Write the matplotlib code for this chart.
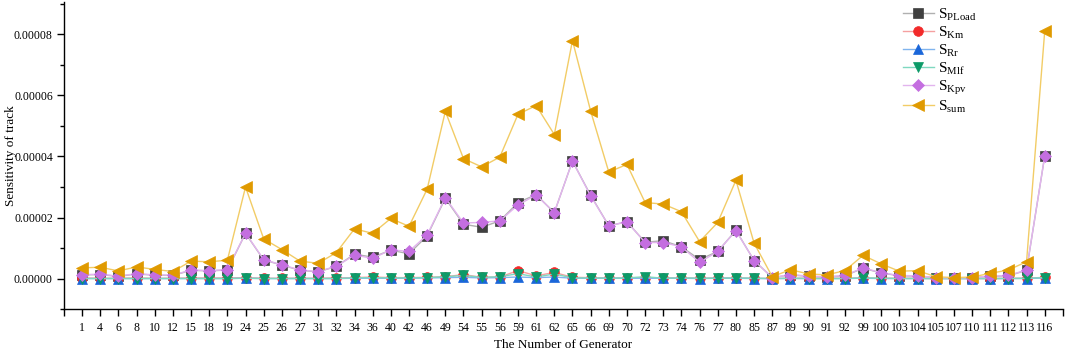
import numpy as np
import matplotlib
matplotlib.use("Agg")
import matplotlib.pyplot as plt
from matplotlib.ticker import MultipleLocator, FormatStrFormatter

plt.rcParams['font.family'] = ['Liberation Serif', 'DejaVu Serif']
plt.rcParams['mathtext.fontset'] = 'custom'
plt.rcParams['mathtext.rm'] = 'Liberation Serif'

generators = [1, 4, 6, 8, 10, 12, 15, 18, 19, 24, 25, 26, 27, 31, 32, 34, 36, 40, 42, 46,
              49, 54, 55, 56, 59, 61, 62, 65, 66, 69, 70, 72, 73, 74, 76, 77, 80, 85, 87, 89,
              90, 91, 92, 99, 100, 103, 104, 105, 107, 110, 111, 112, 113, 116]

# values in units of 1e-6
s_kpv = [1.3, 1.4, 0.8, 1.6, 1.2, 1.1, 2.8, 2.6, 2.9, 14.9, 6.2, 4.5, 2.8, 2.3, 4.0, 7.7,
         6.6, 9.4, 8.9, 14.3, 26.5, 18.2, 18.4, 18.9, 24.1, 27.4, 21.6, 38.5, 27.1, 17.3,
         18.6, 11.8, 11.8, 10.4, 5.3, 8.9, 15.7, 5.9, 0.3, 1.3, 0.8, 0.6, 1.0, 3.5, 1.9,
         1.0, 0.9, 0.3, 0.2, 0.3, 0.8, 1.0, 2.8, 40.1]
s_pload = [1.2, 1.3, 0.7, 1.5, 1.1, 1.0, 2.7, 2.5, 2.8, 14.8, 6.1, 4.4, 2.7, 2.2, 4.0, 8.0,
           7.0, 9.3, 8.1, 14.0, 26.3, 17.8, 16.8, 18.9, 24.9, 27.5, 21.6, 38.5, 27.3, 17.3,
           18.6, 11.9, 12.4, 10.4, 6.2, 8.9, 15.8, 5.9, 0.3, 1.2, 0.7, 0.5, 0.9, 3.4, 1.8,
           0.9, 0.8, 0.3, 0.2, 0.3, 0.7, 0.9, 2.7, 40.1]
s_km = [0.2, 0.1, 0.1, 0.2, 0.1, 0.1, 0.2, 0.2, 0.2, 0.3, 0.1, 0.1, 0.1, 0.1, 0.2, 0.3,
        0.5, 0.3, 0.3, 0.4, 0.6, 1.3, 0.4, 0.5, 2.6, 0.9, 2.0, 0.4, 0.3, 0.2, 0.2, 0.3,
        0.2, 0.2, 0.1, 0.2, 0.2, 0.1, 0.0, 0.1, 0.1, 0.1, 0.1, 0.2, 0.1, 0.1, 0.1, 0.0,
        0.0, 0.0, 0.0, 0.1, 0.1, 0.4]
s_rr = [0.0, 0.0, 0.0, 0.0, 0.0, 0.0, 0.0, 0.0, 0.0, 0.1, 0.0, 0.0, 0.0, 0.0, 0.0, 0.1,
        0.1, 0.1, 0.1, 0.2, 0.3, 0.4, 0.2, 0.3, 0.5, 0.3, 0.5, 0.1, 0.1, 0.1, 0.1, 0.1,
        0.1, 0.1, 0.0, 0.1, 0.1, 0.0, 0.0, 0.0, 0.0, 0.0, 0.0, 0.1, 0.0, 0.0, 0.0, 0.0,
        0.0, 0.0, 0.0, 0.0, 0.0, 0.2]
s_mlf = [0.0, 0.0, 0.0, 0.0, 0.0, 0.0, 0.0, 0.0, 0.0, 0.1, 0.0, 0.0, 0.0, 0.0, 0.0, 0.2,
         0.3, 0.2, 0.2, 0.3, 0.6, 1.0, 0.4, 0.6, 1.6, 0.5, 1.5, 0.2, 0.2, 0.1, 0.2, 0.6,
         0.1, 0.2, 0.1, 0.1, 0.2, 0.1, 0.0, 0.1, 0.0, 0.0, 0.0, 0.2, 0.1, 0.0, 0.0, 0.0,
         0.0, 0.0, 0.0, 0.0, 0.1, 0.3]
s_sum = [3.5, 3.7, 2.5, 3.8, 3.0, 2.3, 5.7, 5.5, 6.0, 30.0, 13.0, 9.5, 5.7, 5.0, 8.5, 16.3,
         14.8, 19.7, 17.1, 29.3, 54.8, 39.3, 36.6, 39.8, 53.8, 56.7, 47.2, 78.0, 54.9, 34.9,
         37.4, 24.9, 24.4, 21.9, 12.1, 18.4, 32.2, 11.6, 0.6, 2.9, 1.5, 1.2, 2.6, 7.6, 4.8,
         2.4, 2.6, 0.6, 0.3, 0.5, 1.7, 2.8, 5.5, 81.0]

series = [
    (r'S$_{\mathregular{PLoad}}$', s_pload, 's', '#404040', '#b0b0b0'),
    (r'S$_{\mathregular{Km}}$', s_km, 'o', '#f22a2a', '#f5a0a0'),
    (r'S$_{\mathregular{Rr}}$', s_rr, '^', '#1a66d9', '#80b4ee'),
    (r'S$_{\mathregular{Mlf}}$', s_mlf, 'v', '#0c9a68', '#7fd8c0'),
    (r'S$_{\mathregular{Kpv}}$', s_kpv, 'D', '#c46ee0', '#e2b4ee'),
    (r'S$_{\mathregular{sum}}$', s_sum, '<', '#e09a00', '#f2cc66'),
]
msizes = {'s': 6.5, 'o': 7, '^': 7, 'v': 7, 'D': 6.5, '<': 9}

fig = plt.figure(figsize=(10.65, 3.52), dpi=100)
ax = fig.add_axes([0.06, 0.122, 0.938, 0.873])

x = np.arange(len(generators))
for label, vals, mk, mc, lc in series:
    ax.plot(x, np.array(vals) * 1e-6, color=lc, lw=1.0, marker=mk, ms=msizes[mk],
            markerfacecolor=mc, markeredgecolor=mc, markeredgewidth=0.5, label=label)

ax.set_xlim(-1, len(generators))
ax.set_ylim(-1.0e-5, 9.07e-5)
ax.set_xticks(np.arange(-1, len(generators) + 1))
ax.set_xticklabels([''] + [str(g) for g in generators] + [''])
ax.yaxis.set_major_locator(MultipleLocator(2e-5))
ax.yaxis.set_minor_locator(MultipleLocator(1e-5))
ax.yaxis.set_major_formatter(FormatStrFormatter('%.5f'))
ax.tick_params(axis='both', labelsize=8.5, length=5, width=1, direction='out')
ax.tick_params(axis='x', pad=4)
ax.tick_params(axis='y', pad=3)
ax.tick_params(axis='y', which='minor', length=3, width=1)

for s in ['top', 'right']:
    ax.spines[s].set_visible(False)
for s in ['left', 'bottom']:
    ax.spines[s].set_linewidth(1.0)

ax.set_xlabel('The Number of Generator', fontsize=9.5)
ax.set_ylabel('Sensitivity of track', fontsize=9.5)
ax.xaxis.set_label_coords(0.5, -0.097)
ax.yaxis.set_label_coords(-0.047, 0.5)

leg = ax.legend(loc='upper left', bbox_to_anchor=(0.837, 0.994), frameon=False, fontsize=11,
                handlelength=2.0, labelspacing=0.08, handletextpad=0.3, borderpad=0.2,
                borderaxespad=0)

fig.savefig('out.png', dpi=100)
